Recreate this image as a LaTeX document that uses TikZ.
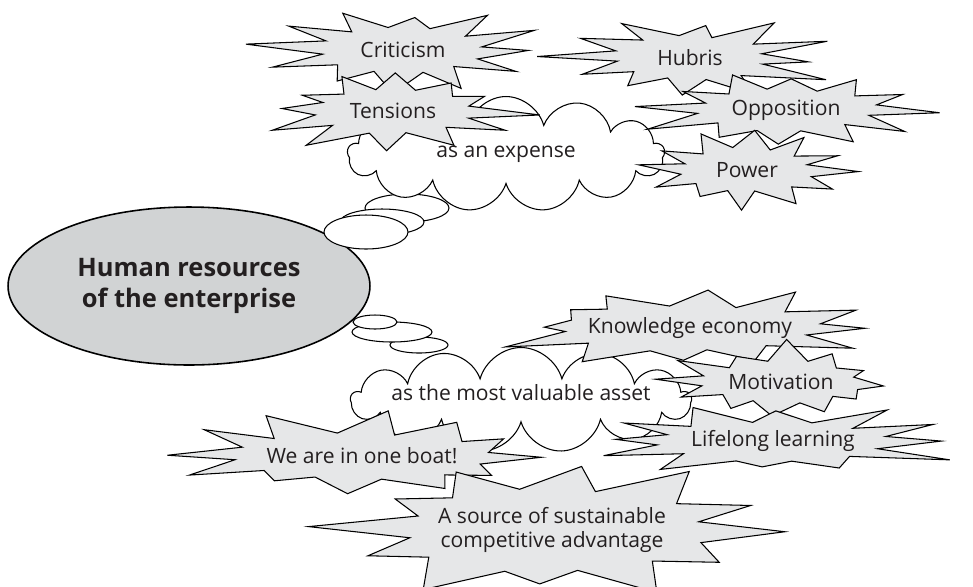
\documentclass[tikz,border=0pt]{standalone}
\usepackage{fontspec}
\setmainfont{Open Sans}
\usepackage{tikz}
\usetikzlibrary{shapes.geometric,shapes.symbols,positioning}
\usepackage{xcolor}
\definecolor{burstgray}{HTML}{E6E7E8}
\definecolor{hrgray}{HTML}{D1D3D4}
\definecolor{inkgray}{HTML}{231F20}

% \burst{name}{x}{y}{inner rx}{inner ry}{outer rx}{outer ry}{seed}{text}
\newcommand\burst[9]{%
  \pgfmathsetseed{#8}
  \foreach \k in {0,...,23}{%
    \pgfmathsetmacro\ang{\k*15+8*rnd}
    \ifodd\k\relax
      \pgfmathsetmacro\fac{0.9+0.1*rnd}
      \coordinate (#1-\k) at ([shift={(#2,#3)}]\ang:{#4*\fac} and {#5*\fac});
    \else
      \pgfmathsetmacro\fac{0.68+0.32*rnd}
      \coordinate (#1-\k) at ([shift={(#2,#3)}]\ang:{#6*\fac} and {#7*\fac});
    \fi
  }
  \draw[burstline] (#1-0) \foreach \k in {1,...,23}{ -- (#1-\k)} -- cycle;
  \node[bursttext] (#1) at (#2,#3) {#9};
}

\begin{document}
\begin{tikzpicture}[x=0.02cm,y=-0.02cm,line width=0.6pt,
                    font=\fontsize{12}{14}\selectfont,text=inkgray]
  \tikzstyle{burstline}=[draw=black,fill=burstgray,line join=miter]
  \tikzstyle{bursttext}=[inner sep=0pt,align=center]
  \tikzstyle{thought}=[cloud,draw,fill=white,cloud puffs=13,cloud ignores aspect,
                       inner xsep=-80pt,inner ysep=-10pt]
  \tikzstyle{bubble}=[ellipse,draw,fill=white,inner sep=0pt]

  \useasboundingbox (0,0) rectangle (973,586);

  \node[ellipse,draw,line width=0.9pt,fill=hrgray,minimum width=7.24cm,minimum height=3.16cm,
        align=center,font=\fontsize{14.5}{18}\selectfont\bfseries]
        (hr) at (189,286) {Human resources\\of the enterprise};

  % upper thought: as an expense
  \node[bubble,minimum width=1.68cm,minimum height=0.56cm] (ub3) at (407,208) {};
  \node[bubble,minimum width=1.68cm,minimum height=0.52cm] (ub2) at (382,222) {};
  \node[bubble,minimum width=1.68cm,minimum height=0.68cm] (ub1) at (366,232) {};
  \node[thought,minimum width=6.34cm,minimum height=2.3cm] (expense) at (506,154) {as an expense};

  \burst{crit}{403}{50}{84}{24}{160}{44}{3}{Criticism}
  \burst{hub}{690}{58}{80}{23}{165}{44}{7}{Hubris}
  \burst{tens}{393}{111}{82}{24}{150}{44}{11}{Tensions}
  \burst{opp}{786}{110}{95}{22}{158}{42}{5}{Opposition}
  \burst{pow}{747}{170}{68}{23}{122}{46}{9}{Power}

  % lower thought: as the most valuable asset
  \node[bubble,minimum width=1.16cm,minimum height=0.32cm] (lb3) at (419,345) {};
  \node[bubble,minimum width=1.6cm,minimum height=0.4cm]   (lb2) at (392,332) {};
  \node[bubble,minimum width=0.88cm,minimum height=0.28cm] (lb1) at (375,322) {};
  \node[thought,minimum width=6.8cm,minimum height=2.1cm] (asset) at (521,400) {};
  \node (assettext) at (521,393) {as the most valuable asset};

  \burst{know}{690}{328}{135}{24}{205}{44}{13}{Knowledge economy}
  \burst{moti}{781}{382}{82}{22}{130}{43}{17}{Motivation}
  \burst{boat}{362}{456}{135}{24}{208}{46}{19}{We are in one boat!}
  \burst{life}{773}{441}{118}{21}{210}{38}{23}{Lifelong learning}
  \burst{src}{552}{530}{158}{44}{250}{70}{29}{A source of sustainable\\competitive advantage}
\end{tikzpicture}
\end{document}
